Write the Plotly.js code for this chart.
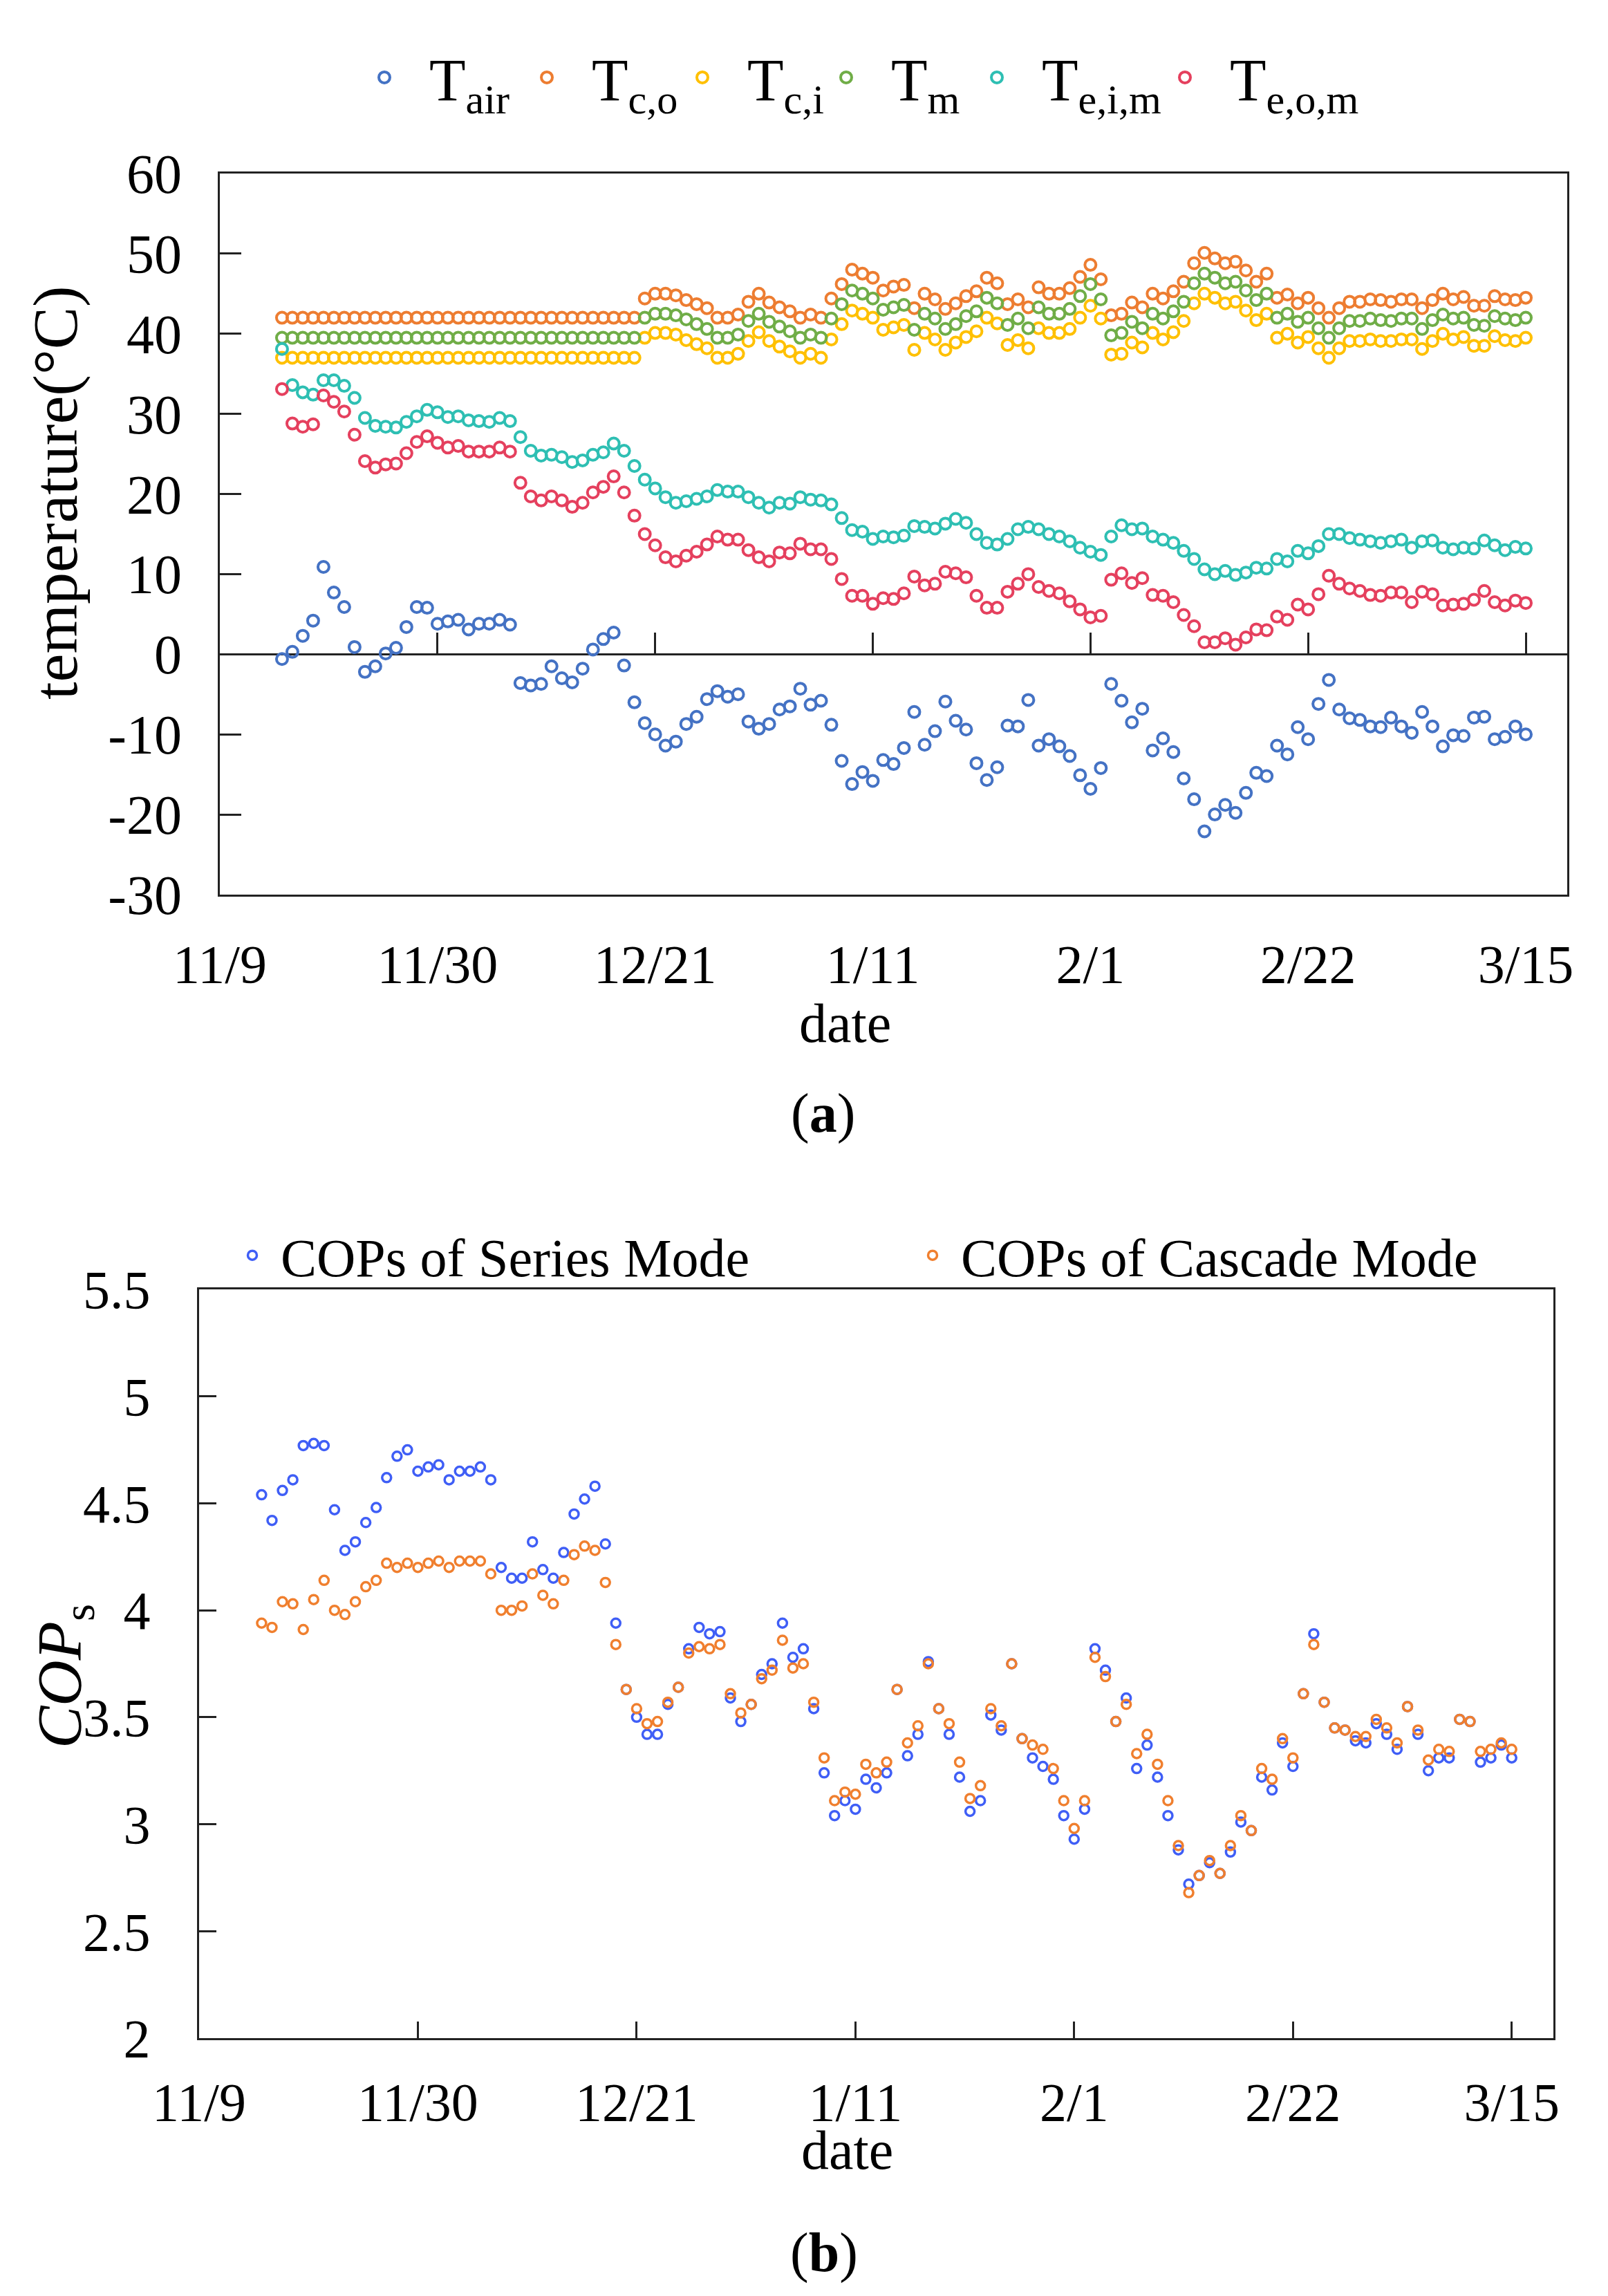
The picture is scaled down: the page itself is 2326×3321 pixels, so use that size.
<!DOCTYPE html>
<html>
<head>
<meta charset="utf-8">
<script src="https://cdn.plot.ly/plotly-3.0.1.min.js"></script>
<style>
body { margin: 0; background: #fff; }
#chart { width: 2326px; height: 3321px; }
</style>
</head>
<body>
<div id="chart"></div>
<script>
// daily readings, 11/15 .. 3/15
var firstDay = "2020-11-15";

var tAir = [
    -0.6, 0.3, 2.3, 4.2, 10.9, 7.7, 5.9, 0.9, -2.2, -1.5,
    0.1, 0.8, 3.4, 5.9, 5.8, 3.8, 4.1, 4.3, 3.1, 3.8,
    3.8, 4.3, 3.7, -3.6, -3.9, -3.7, -1.5, -3.0, -3.5, -1.8,
    0.6, 1.9, 2.7, -1.4, -6.0, -8.6, -10.0, -11.4, -10.9, -8.7,
    -7.8, -5.6, -4.6, -5.3, -5.0, -8.4, -9.3, -8.7, -6.9, -6.5,
    -4.3, -6.3, -5.8, -8.8, -13.3, -16.2, -14.7, -15.8, -13.2, -13.7,
    -11.7, -7.2, -11.3, -9.6, -5.9, -8.3, -9.4, -13.6, -15.7, -14.1,
    -8.9, -9.0, -5.7, -11.4, -10.6, -11.5, -12.7, -15.1, -16.8, -14.2,
    -3.7, -5.8, -8.5, -6.8, -12.0, -10.5, -12.2, -15.5, -18.1, -22.1,
    -20.0, -18.8, -19.8, -17.3, -14.8, -15.2, -11.4, -12.5, -9.1, -10.6,
    -6.2, -3.2, -6.9, -8.0, -8.2, -9.0, -9.1, -7.9, -9.0, -9.8,
    -7.2, -9.0, -11.5, -10.1, -10.2, -7.9, -7.8, -10.6, -10.3, -9.0,
    -10.0
];

var tCondOut = [
    42, 42, 42, 42, 42, 42, 42, 42, 42, 42,
    42, 42, 42, 42, 42, 42, 42, 42, 42, 42,
    42, 42, 42, 42, 42, 42, 42, 42, 42, 42,
    42, 42, 42, 42, 42, 44.4, 45.0, 45.0, 44.8, 44.2,
    43.7, 43.2, 42.0, 42.0, 42.4, 44.0, 45.0, 43.9, 43.3, 42.8,
    42.0, 42.4, 42.0, 44.4, 46.2, 48.0, 47.5, 47.0, 45.4, 45.9,
    46.1, 43.2, 45.0, 44.3, 43.1, 43.8, 44.7, 45.3, 47.0, 46.3,
    43.7, 44.3, 43.3, 45.8, 45.0, 45.0, 45.7, 47.1, 48.6, 46.8,
    42.3, 42.5, 43.9, 43.3, 45.0, 44.4, 45.3, 46.5, 48.8, 50.1,
    49.4, 48.8, 49.0, 47.9, 46.5, 47.5, 44.5, 44.9, 43.8, 44.5,
    43.2, 42.0, 43.2, 44.0, 44.0, 44.3, 44.2, 44.0, 44.3, 44.3,
    43.2, 44.2, 45.0, 44.3, 44.6, 43.5, 43.5, 44.7, 44.3, 44.2,
    44.5
];

var tCondIn = [
    37, 37, 37, 37, 37, 37, 37, 37, 37, 37,
    37, 37, 37, 37, 37, 37, 37, 37, 37, 37,
    37, 37, 37, 37, 37, 37, 37, 37, 37, 37,
    37, 37, 37, 37, 37, 39.5, 40.1, 40.1, 39.9, 39.2,
    38.7, 38.2, 37.0, 37.0, 37.5, 39.1, 40.2, 39.1, 38.4, 37.8,
    37.0, 37.5, 37.0, 39.3, 41.2, 42.9, 42.5, 42.0, 40.5, 40.8,
    41.1, 38.0, 40.1, 39.3, 38.0, 38.9, 39.6, 40.3, 42.0, 41.3,
    38.6, 39.2, 38.2, 40.7, 40.1, 40.1, 40.6, 42.0, 43.5, 41.9,
    37.4, 37.5, 38.9, 38.3, 40.1, 39.3, 40.2, 41.6, 43.8, 45.0,
    44.5, 43.8, 44.0, 42.9, 41.7, 42.5, 39.5, 40.0, 38.9, 39.6,
    38.2, 37.0, 38.2, 39.1, 39.1, 39.3, 39.1, 39.1, 39.3, 39.3,
    38.1, 39.1, 40.0, 39.3, 39.6, 38.5, 38.5, 39.7, 39.2, 39.1,
    39.5
];

var tMid = [
    39.5, 39.5, 39.5, 39.5, 39.5, 39.5, 39.5, 39.5, 39.5, 39.5,
    39.5, 39.5, 39.5, 39.5, 39.5, 39.5, 39.5, 39.5, 39.5, 39.5,
    39.5, 39.5, 39.5, 39.5, 39.5, 39.5, 39.5, 39.5, 39.5, 39.5,
    39.5, 39.5, 39.5, 39.5, 39.5, 42.0, 42.5, 42.5, 42.3, 41.8,
    41.2, 40.6, 39.5, 39.5, 39.9, 41.6, 42.5, 41.5, 40.9, 40.3,
    39.5, 39.9, 39.5, 41.9, 43.7, 45.4, 45.0, 44.4, 43.0, 43.3,
    43.6, 40.5, 42.5, 41.9, 40.6, 41.2, 42.2, 42.8, 44.5, 43.8,
    41.1, 41.9, 40.7, 43.3, 42.5, 42.5, 43.1, 44.7, 46.2, 44.3,
    39.8, 40.1, 41.5, 40.7, 42.5, 41.9, 42.8, 44.0, 46.3, 47.5,
    47.0, 46.3, 46.5, 45.4, 44.2, 45.0, 42.0, 42.5, 41.5, 42.0,
    40.7, 39.5, 40.7, 41.6, 41.6, 41.9, 41.7, 41.6, 41.9, 41.9,
    40.6, 41.7, 42.4, 41.9, 42.0, 41.1, 41.0, 42.2, 41.9, 41.7,
    42.0
];

var tEvapIn = [
    38.1, 33.6, 32.7, 32.4, 34.2, 34.2, 33.5, 32.0, 29.5, 28.5,
    28.4, 28.3, 29.0, 29.7, 30.5, 30.2, 29.6, 29.7, 29.2, 29.1,
    29.0, 29.5, 29.1, 27.1, 25.4, 24.8, 24.9, 24.6, 24.0, 24.2,
    24.9, 25.2, 26.3, 25.4, 23.5, 21.8, 20.7, 19.6, 18.9, 19.1,
    19.4, 19.7, 20.5, 20.3, 20.3, 19.6, 18.9, 18.3, 18.9, 18.8,
    19.6, 19.3, 19.2, 18.7, 17.0, 15.5, 15.3, 14.4, 14.7, 14.6,
    14.8, 16.0, 15.9, 15.7, 16.3, 16.9, 16.4, 15.0, 13.9, 13.7,
    14.4, 15.6, 15.9, 15.6, 15.0, 14.7, 14.1, 13.3, 12.8, 12.4,
    14.7, 16.1, 15.6, 15.7, 14.7, 14.3, 13.9, 12.9, 11.9, 10.6,
    10.0, 10.4, 9.9, 10.2, 10.8, 10.7, 11.9, 11.6, 12.9, 12.6,
    13.5, 15.0, 15.0, 14.5, 14.3, 14.1, 13.9, 14.1, 14.3, 13.3,
    14.1, 14.2, 13.3, 13.1, 13.3, 13.2, 14.2, 13.6, 13.0, 13.4,
    13.2
];

var tEvapOut = [
    33.1, 28.8, 28.4, 28.7, 32.3, 31.5, 30.3, 27.4, 24.1, 23.3,
    23.7, 23.8, 25.1, 26.5, 27.2, 26.4, 25.8, 26.0, 25.3, 25.3,
    25.3, 25.8, 25.3, 21.4, 19.7, 19.2, 19.7, 19.2, 18.4, 18.9,
    20.2, 20.9, 22.2, 20.2, 17.3, 15.0, 13.6, 12.1, 11.6, 12.3,
    12.8, 13.7, 14.7, 14.3, 14.3, 13.0, 12.1, 11.6, 12.7, 12.6,
    13.8, 13.1, 13.1, 11.9, 9.4, 7.3, 7.3, 6.3, 7.0, 6.9,
    7.6, 9.7, 8.6, 8.8, 10.3, 10.1, 9.6, 7.3, 5.8, 5.8,
    7.8, 8.8, 10.0, 8.4, 7.9, 7.6, 6.6, 5.6, 4.6, 4.8,
    9.3, 10.1, 8.9, 9.5, 7.4, 7.3, 6.5, 4.9, 3.5, 1.5,
    1.5, 2.0, 1.2, 2.1, 3.1, 3.0, 4.7, 4.3, 6.2, 5.6,
    7.5, 9.8, 8.8, 8.2, 7.9, 7.4, 7.3, 7.7, 7.7, 6.5,
    7.8, 7.5, 6.1, 6.2, 6.3, 6.8, 7.9, 6.5, 6.1, 6.7,
    6.4
];

var copSeries = [
    4.54, 4.42, 4.56, 4.61, 4.77, 4.78, 4.77, 4.47, 4.28, 4.32,
    4.41, 4.48, 4.62, 4.72, 4.75, 4.65, 4.67, 4.68, 4.61, 4.65,
    4.65, 4.67, 4.61, 4.20, 4.15, 4.15, 4.32, 4.19, 4.15, 4.27,
    4.45, 4.52, 4.58, 4.31, 3.94, 3.63, 3.50, 3.42, 3.42, 3.56,
    3.64, 3.82, 3.92, 3.89, 3.90, 3.59, 3.48, 3.56, 3.70, 3.75,
    3.94, 3.78, 3.82, 3.54, 3.24, 3.04, 3.11, 3.07, 3.21, 3.17,
    3.24, 3.63, 3.32, 3.42, 3.76, 3.54, 3.42, 3.22, 3.06, 3.11,
    3.51, 3.44, 3.75, 3.40, 3.31, 3.27, 3.21, 3.04, 2.93, 3.07,
    3.82, 3.72, 3.48, 3.59, 3.26, 3.37, 3.22, 3.04, 2.88, 2.72,
    2.76, 2.82, 2.77, 2.87, 3.01, 2.97, 3.22, 3.16, 3.38, 3.27,
    3.61, 3.89, 3.57, 3.45, 3.44, 3.39, 3.38, 3.47, 3.42, 3.35,
    3.55, 3.42, 3.25, 3.31, 3.31, 3.49, 3.48, 3.29, 3.31, 3.37,
    3.31
];

var copCascade = [
    3.94, 3.92, 4.04, 4.03, 3.91, 4.05, 4.14, 4.00, 3.98, 4.04,
    4.11, 4.14, 4.22, 4.20, 4.22, 4.20, 4.22, 4.23, 4.20, 4.23,
    4.23, 4.23, 4.17, 4.00, 4.00, 4.02, 4.17, 4.07, 4.03, 4.14,
    4.26, 4.30, 4.28, 4.13, 3.84, 3.63, 3.54, 3.47, 3.48, 3.57,
    3.64, 3.80, 3.83, 3.82, 3.84, 3.61, 3.52, 3.56, 3.68, 3.72,
    3.86, 3.73, 3.75, 3.57, 3.31, 3.11, 3.15, 3.14, 3.28, 3.24,
    3.29, 3.63, 3.38, 3.46, 3.75, 3.54, 3.47, 3.29, 3.12, 3.18,
    3.54, 3.46, 3.75, 3.40, 3.37, 3.35, 3.26, 3.11, 2.98, 3.11,
    3.78, 3.69, 3.48, 3.56, 3.33, 3.42, 3.28, 3.11, 2.90, 2.68,
    2.76, 2.83, 2.77, 2.90, 3.04, 2.97, 3.26, 3.21, 3.40, 3.31,
    3.61, 3.84, 3.57, 3.45, 3.44, 3.41, 3.41, 3.49, 3.45, 3.38,
    3.55, 3.44, 3.30, 3.35, 3.34, 3.49, 3.48, 3.34, 3.35, 3.38,
    3.35
];

var namesA = ["T<sub>air</sub>", "T<sub>c,o</sub>", "T<sub>c,i</sub>", "T<sub>m</sub>", "T<sub>e,i,m</sub>", "T<sub>e,o,m</sub>"];
var colorsA = ["#4472C4", "#ED7D31", "#FFC000", "#70AD47", "#2EBFB3", "#E5405E"];
var namesB = ["COPs of Series Mode", "COPs of Cascade Mode"];
var colorsB = ["#3F5EF6", "#F07F2E"];

// temperature axis ticks, written with a plain hyphen as in the original
var tempTickVals = [-30, -20, -10, 0, 10, 20, 30, 40, 50, 60];
var tempTickText = ["-30", "-20", "-10", "0", "10", "20", "30", "40", "50", "60"];

var W = 2326, H = 3321;
var fontFamily = "'Liberation Serif', 'Times New Roman', serif";
var dayMs = 86400000;

function buildDates(start, n) {
    var out = [];
    var t0 = Date.parse(start + "T00:00:00Z");
    for (var i = 0; i < n; i++) {
        out.push(new Date(t0 + i * dayMs).toISOString().slice(0, 10));
    }
    return out;
}

function px(v, total) { return v / total; }

var dates = buildDates(firstDay, tAir.length);
var seriesA = [tAir, tCondOut, tCondIn, tMid, tEvapIn, tEvapOut];
var legendWidthsA = [100, 90, 73, 83, 137, 230];
var seriesB = [copSeries, copCascade];

// frame positions in pixels
var domAx = [px(318, W), px(2267, W)];
var domAy = [1 - px(1294, H), 1 - px(251, H)];
var domBx = [px(288, W), px(2247, W)];
var domBy = [1 - px(2948, H), 1 - px(1865, H)];
var rangeA = [-30, 60];
var zeroPos = domAy[0] + (0 - rangeA[0]) / (rangeA[1] - rangeA[0]) * (domAy[1] - domAy[0]);

var plotData = [];
for (var i = 0; i < seriesA.length; i++) {
    plotData.push({
        type: "scatter",
        mode: "markers",
        name: namesA[i],
        x: dates,
        y: seriesA[i],
        xaxis: i === 0 ? "x3" : "x",
        yaxis: "y",
        legend: "legend",
        legendwidth: legendWidthsA[i],
        marker: {symbol: "circle-open", size: 16, color: colorsA[i], line: {width: 4, color: colorsA[i]}},
        hoverinfo: "x+y+name"
    });
}
for (var j = 0; j < seriesB.length; j++) {
    plotData.push({
        type: "scatter",
        mode: "markers",
        name: namesB[j],
        x: dates,
        y: seriesB[j],
        xaxis: "x2",
        yaxis: "y2",
        legend: "legend2",
        legendwidth: 897,
        marker: {symbol: "circle-open", size: 13, color: colorsB[j], line: {width: 3.5, color: colorsB[j]}},
        hoverinfo: "x+y+name"
    });
}

var dateAxis = {
    type: "date",
    range: ["2020-11-09", "2021-03-19"],
    tick0: "2020-11-09",
    dtick: 21 * dayMs,
    tickformat: "%-m/%-d",
    showgrid: false,
    zeroline: false,
    linecolor: "#222",
    linewidth: 3,
    tickcolor: "#222",
    tickwidth: 3,
    tickfont: {size: 78, color: "#000"}
};

function extend(base, extra) {
    var out = {};
    for (var k in base) out[k] = base[k];
    for (var m in extra) out[m] = extra[m];
    return out;
}

var layout = {
    width: W,
    height: H,
    margin: {l: 0, r: 0, t: 0, b: 0, pad: 0},
    paper_bgcolor: "#fff",
    plot_bgcolor: "#fff",
    font: {family: fontFamily, color: "#000", size: 78},
    showlegend: true,
    xaxis: extend(dateAxis, {
        domain: domAx, anchor: "y", ticks: "", showline: true, mirror: true,
        ticklabelstandoff: 30
    }),
    xaxis3: extend(dateAxis, {
        overlaying: "x", anchor: "free", position: zeroPos, side: "bottom",
        ticks: "inside", ticklen: 31, showline: false, showticklabels: false
    }),
    yaxis: {
        domain: domAy, anchor: "x", range: rangeA,
        tickmode: "array", tickvals: tempTickVals, ticktext: tempTickText,
        ticks: "inside", ticklen: 31, tickwidth: 3, tickcolor: "#222",
        showline: true, mirror: true, linecolor: "#222", linewidth: 3,
        showgrid: false, zeroline: true, zerolinecolor: "#222", zerolinewidth: 3,
        tickfont: {size: 80, color: "#000"}, ticklabelstandoff: 36
    },
    xaxis2: extend(dateAxis, {
        domain: domBx, anchor: "y2", ticks: "inside", ticklen: 24,
        showline: true, mirror: true, ticklabelstandoff: 22
    }),
    yaxis2: {
        domain: domBy, anchor: "x2", range: [2, 5.5], dtick: 0.5,
        ticks: "inside", ticklen: 25, tickwidth: 3, tickcolor: "#222",
        showline: true, mirror: true, linecolor: "#222", linewidth: 3,
        showgrid: false, zeroline: false,
        tickfont: {size: 78, color: "#000"}, ticklabelstandoff: 52
    },
    legend: {
        orientation: "h", x: px(491, W), xanchor: "left", y: 1 - px(112, H), yanchor: "middle",
        font: {size: 86, color: "#000"}, itemwidth: 120, bgcolor: "rgba(0,0,0,0)",
        borderwidth: 0, itemsizing: "trace"
    },
    legend2: {
        orientation: "h", x: px(324, W), xanchor: "left", y: 1 - px(1816, H), yanchor: "middle",
        font: {size: 78, color: "#000"}, itemwidth: 72, bgcolor: "rgba(0,0,0,0)",
        borderwidth: 0, itemsizing: "trace"
    },
    annotations: [
        {text: "temperature(°C)", x: px(80, W), y: 1 - px(713, H), textangle: -90, font: {size: 92}},
        {text: "date", x: px(1222, W), y: 1 - px(1480, H), font: {size: 80}},
        {text: "(<b>a</b>)", x: px(1190, W), y: 1 - px(1610, H), font: {size: 80}},
        {text: "<i>COP</i><sub>s</sub>", x: px(92, W), y: 1 - px(2425, H), textangle: -90, font: {size: 92}},
        {text: "date", x: px(1225, W), y: 1 - px(3110, H), font: {size: 80}},
        {text: "(<b>b</b>)", x: px(1192, W), y: 1 - px(3258, H), font: {size: 80}}
    ]
};
for (var a = 0; a < layout.annotations.length; a++) {
    var ann = layout.annotations[a];
    ann.xref = "paper";
    ann.yref = "paper";
    ann.showarrow = false;
    ann.xanchor = "center";
    ann.yanchor = "middle";
}

Plotly.newPlot("chart", plotData, layout, {displayModeBar: false, staticPlot: true});
</script>
</body>
</html>
